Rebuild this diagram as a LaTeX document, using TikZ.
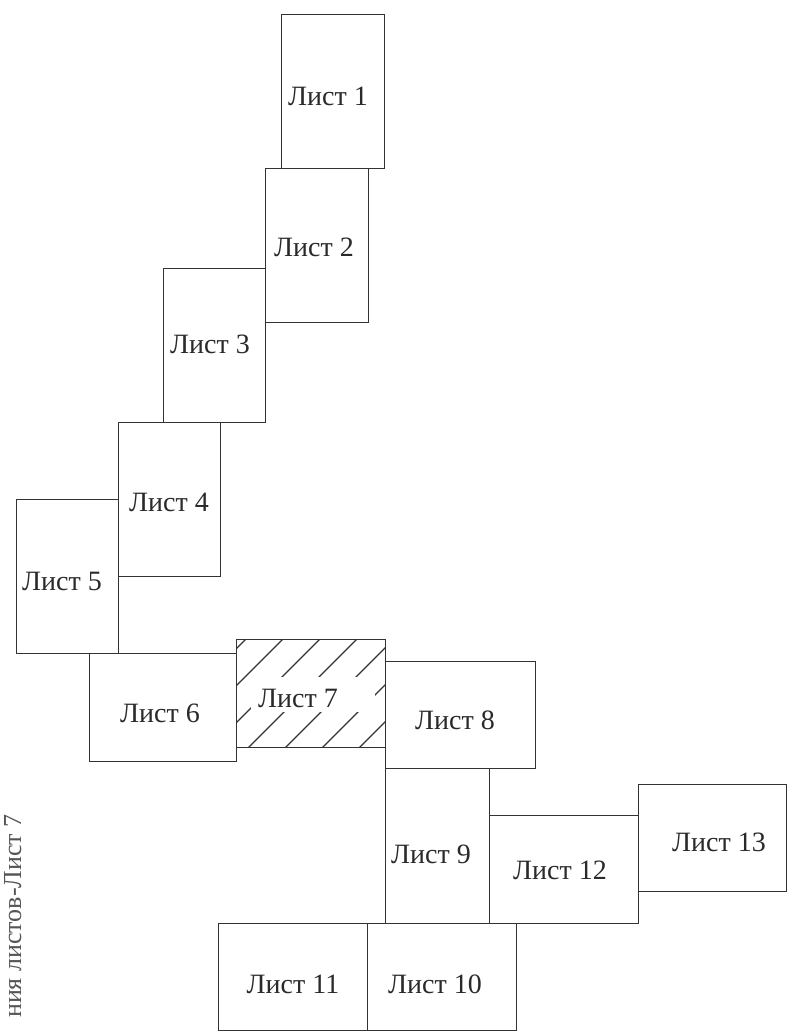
\documentclass[tikz,border=0pt]{standalone}
\usepackage{fontspec}
\setmainfont{Liberation Serif}
\definecolor{linec}{HTML}{333333}
\definecolor{txtc}{HTML}{2A2A2A}
\definecolor{rotc}{HTML}{555555}
\begin{document}
\begin{tikzpicture}[x=1pt,y=-1pt,
  sheet/.style={draw=linec, line width=1.4pt, inner sep=0pt, anchor=north west},
  lbl/.style={font=\fontsize{28}{30}\selectfont, text=txtc, inner sep=0pt, anchor=base},
  hatchline/.style={draw=linec, line width=1.3pt},
  rottext/.style={font=\fontsize{26}{28}\selectfont, text=rotc, inner sep=0pt, anchor=base east, rotate=90}]
\fill[white] (0,0) rectangle (795,1034);
\useasboundingbox (0,0) rectangle (795,1034);

% hatching of sheet 7
\begin{scope}
  \clip (236,639) rectangle (385,747);
  \foreach \c in {885,922,...,1107} \draw[hatchline] (\c-600,600) -- (\c-800,800);
\end{scope}
\fill[white] (251,677) rectangle (375,712);

% sheets
\node[sheet, minimum width=103pt, minimum height=154pt] (s1) at (281,14) {};
\node[sheet, minimum width=103pt, minimum height=154pt] (s2) at (265,168) {};
\node[sheet, minimum width=102pt, minimum height=154pt] (s3) at (163,268) {};
\node[sheet, minimum width=102pt, minimum height=154pt] (s4) at (118,422) {};
\node[sheet, minimum width=102pt, minimum height=154pt] (s5) at (16,499) {};
\node[sheet, minimum width=147pt, minimum height=108pt] (s6) at (89,653) {};
\node[sheet, minimum width=149pt, minimum height=108pt] (s7) at (236,639) {};
\node[sheet, minimum width=150pt, minimum height=107pt] (s8) at (385,661) {};
\node[sheet, minimum width=104pt, minimum height=155pt] (s9) at (385,768) {};
\node[sheet, minimum width=149pt, minimum height=108pt] (s12) at (489,815) {};
\node[sheet, minimum width=148pt, minimum height=107pt] (s13) at (638,784) {};
\node[sheet, minimum width=149pt, minimum height=107pt] (s11) at (218,923) {};
\node[sheet, minimum width=149pt, minimum height=107pt] (s10) at (367,923) {};

% labels
\node[lbl] (l1) at (328,105) {Лист 1};
\node[lbl] (l2) at (314,256) {Лист 2};
\node[lbl] (l3) at (210,353) {Лист 3};
\node[lbl] (l4) at (169,511) {Лист 4};
\node[lbl] (l5) at (62,590) {Лист 5};
\node[lbl] (l6) at (160,722) {Лист 6};
\node[lbl] (l7) at (298,707) {Лист 7};
\node[lbl] (l8) at (455,729) {Лист 8};
\node[lbl] (l9) at (431,863) {Лист 9};
\node[lbl] (l12) at (560,879) {Лист 12};
\node[lbl] (l13) at (719,851) {Лист 13};
\node[lbl] (l11) at (293,993) {Лист 11};
\node[lbl] (l10) at (435,993) {Лист 10};

% rotated caption at left edge
\node[rottext] (cap) at (21,814) {ния листов-Лист 7};
\end{tikzpicture}
\end{document}
